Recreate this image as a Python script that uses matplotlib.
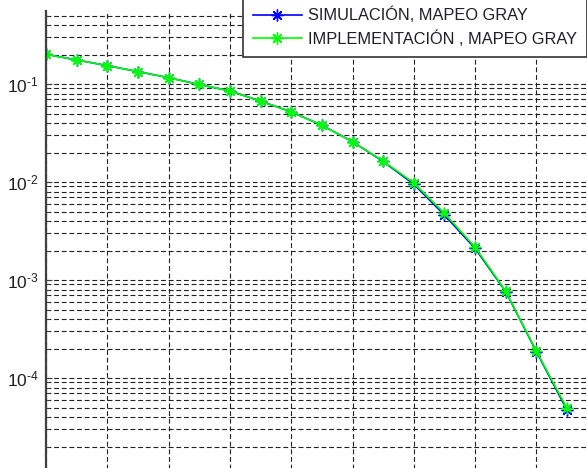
"""BER vs SNR curve: simulation against hardware implementation, Gray mapping."""
import math

import matplotlib
matplotlib.use("Agg")
import matplotlib.pyplot as plt
from matplotlib.ticker import FixedLocator, LogLocator, NullFormatter, FuncFormatter

plt.rcParams.update({
    "font.family": ["Liberation Sans", "DejaVu Sans"],
    "mathtext.fontset": "custom",
    "mathtext.rm": "Liberation Sans",
    "mathtext.it": "Liberation Sans:italic",
    "lines.scale_dashes": False,
})

# ---------- data ----------
snr_db = list(range(18))
ber_sim = [0.201, 0.176, 0.154, 0.134, 0.116, 0.099, 0.085, 0.067, 0.052,
           0.038, 0.0258, 0.0162, 0.0095, 0.0046, 0.0021, 0.00076,
           0.000186, 4.7e-5]
ber_impl = [0.201, 0.176, 0.154, 0.134, 0.116, 0.099, 0.085, 0.067, 0.052,
            0.038, 0.0258, 0.0164, 0.0098, 0.0048, 0.00217, 0.00077,
            0.000189, 4.9e-5]
x_grid = [0, 2, 4, 6, 8, 10, 12, 14, 16, 18]
y_decades = [1e-5, 1e-4, 1e-3, 1e-2, 1e-1]
labels = ["SIMULACIÓN, MAPEO GRAY", "IMPLEMENTACIÓN , MAPEO GRAY"]


def decade_label(v, _pos):
    # plain hyphen in the exponent, small superscript
    return r"$\mathregular{10^{\text{-%d}}}$" % abs(round(math.log10(v)))


W, H = 587, 468
fig = plt.figure(figsize=(W / 100, H / 100), dpi=100)
# axes area runs past the right and bottom edges of the canvas
ax = fig.add_axes([46 / W, -8 / H, 551.7 / W, 465 / H])

star = (8, 2, 0)
ax.semilogy(snr_db, ber_sim, color="#0000ff", lw=1.2, marker=star,
            ms=8.5, mew=1.0, label=labels[0])
ax.semilogy(snr_db, ber_impl, color="#00ff00", lw=1.2, marker=star,
            ms=8.5, mew=1.0, label=labels[1])

ax.set_xlim(0, 18)
ax.set_ylim(1e-5, 0.556)
ax.xaxis.set_major_locator(FixedLocator(x_grid))
ax.xaxis.set_major_formatter(NullFormatter())
ax.yaxis.set_major_locator(FixedLocator(y_decades))
ax.yaxis.set_major_formatter(FuncFormatter(decade_label))
ax.yaxis.set_minor_locator(LogLocator(base=10, subs=range(2, 10), numticks=20))
ax.yaxis.set_minor_formatter(NullFormatter())

grid_kw = dict(color="#222222", linewidth=0.8, linestyle=(0, (3.5, 2)))
ax.grid(True, which="major", axis="both", **grid_kw)
ax.grid(True, which="minor", axis="y", **grid_kw)
ax.set_axisbelow(True)

ax.tick_params(axis="y", which="major", direction="in", length=4,
               labelsize=12.5, pad=5, color="#404040", labelcolor="#1f1f2a")
ax.tick_params(axis="y", which="minor", direction="in", length=2, color="#404040")
ax.tick_params(axis="x", which="both", length=0)

for side in ("top", "right", "bottom"):
    ax.spines[side].set_visible(False)
ax.spines["left"].set_color("#404040")
ax.spines["left"].set_linewidth(1.6)

leg = ax.legend(loc="lower left", bbox_to_anchor=(243 / W, 1 - 57 / H),
                bbox_transform=fig.transFigure, fontsize=11.8,
                handlelength=3.0, handletextpad=0.37, borderpad=0.6,
                labelspacing=0.45, numpoints=1, fancybox=False,
                framealpha=1, borderaxespad=0)
leg.get_frame().set_edgecolor("#333333")
leg.get_frame().set_linewidth(1.2)
for t in leg.get_texts():
    t.set_color("#1f1f2a")

fig.savefig("out.png", dpi=100, facecolor="white")
